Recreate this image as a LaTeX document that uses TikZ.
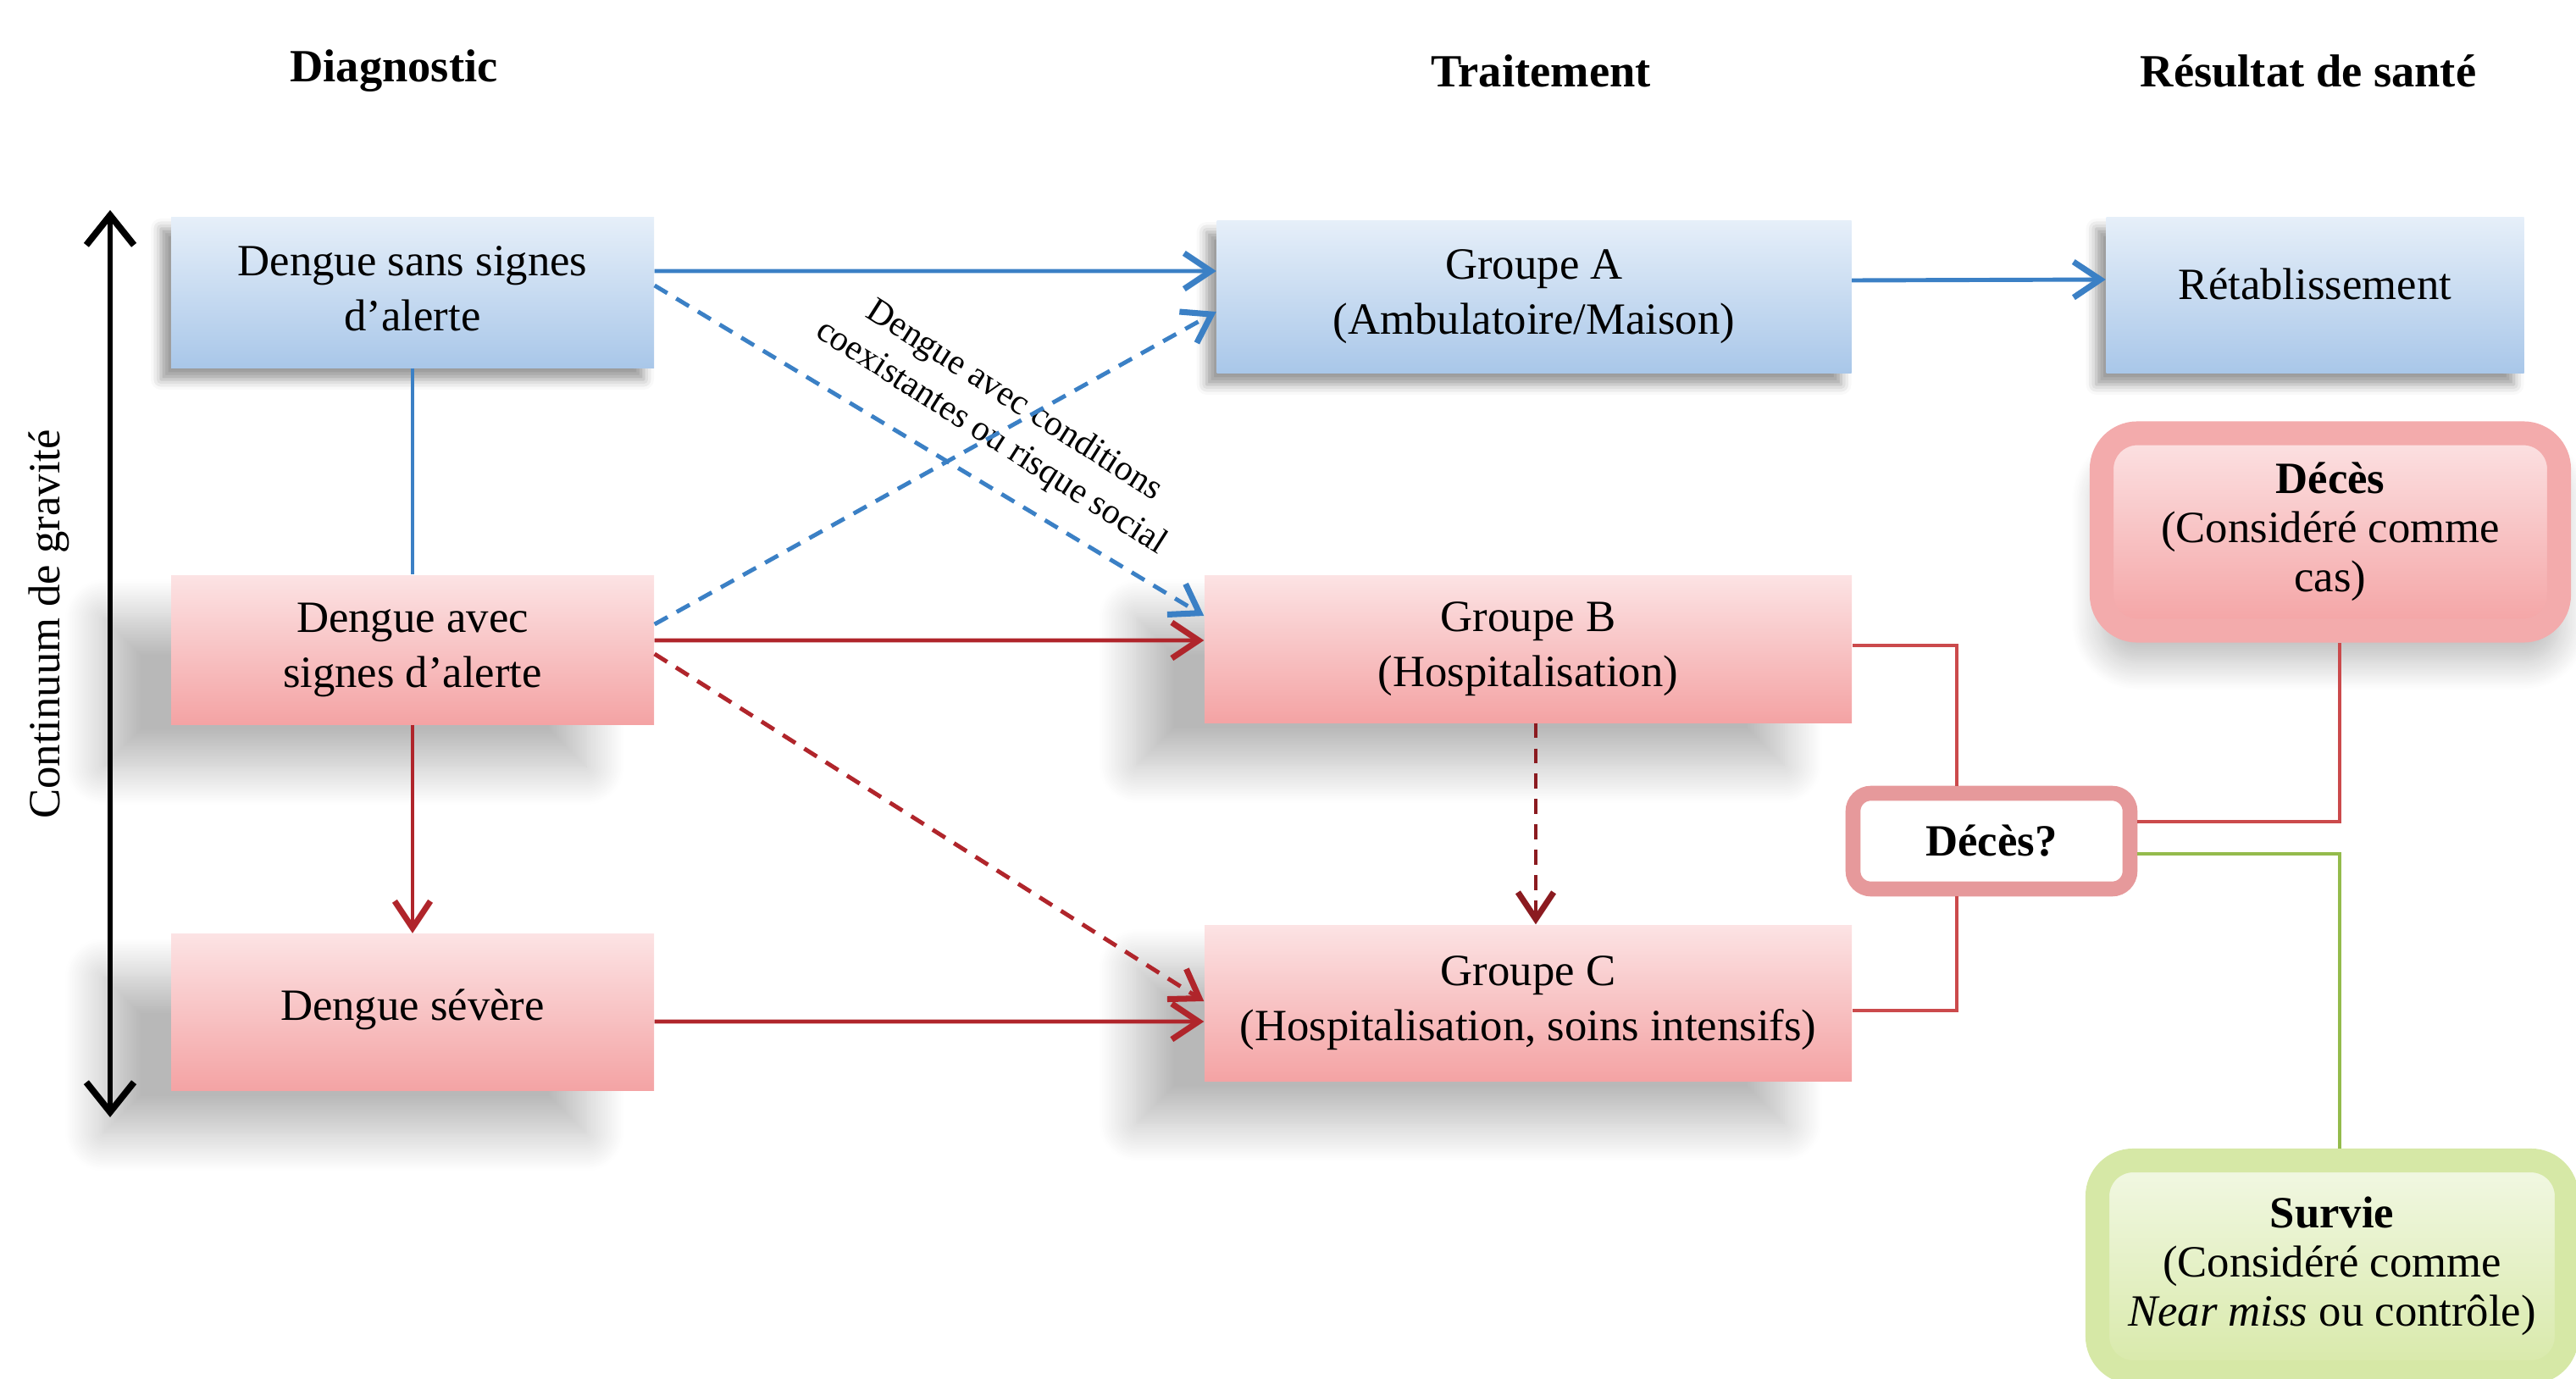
\documentclass[tikz,border=0pt]{standalone}
\usepackage{fontspec}
\setmainfont{Liberation Serif}
\usetikzlibrary{arrows.meta, shadows.blur}

\definecolor{bleuHaut}{HTML}{E6EFF9}
\definecolor{bleuBas}{HTML}{A9C7E9}
\definecolor{roseHaut}{HTML}{FCE3E4}
\definecolor{roseBas}{HTML}{F4A3A4}
\definecolor{roseBord}{HTML}{F3ABAC}
\definecolor{roseCadre}{HTML}{E6999B}
\definecolor{vertHaut}{HTML}{F2F8E4}
\definecolor{vertBas}{HTML}{D8E9A9}
\definecolor{vertBord}{HTML}{D6E8A6}
\definecolor{bleuTrait}{HTML}{3B80C5}
\definecolor{rougeTrait}{HTML}{B0252B}
\definecolor{rougeFonce}{HTML}{8B1B20}
\definecolor{rougeFin}{HTML}{CB4A4C}
\definecolor{vertTrait}{HTML}{94BB4C}

\begin{document}
\begin{tikzpicture}[
    texte/.style={font=\fontsize{15}{18.5}\selectfont},
    entete/.style={font=\fontsize{15.5}{18.5}\selectfont\bfseries},
    boite/.style={texte, rectangle, align=center, inner sep=2pt},
    boitebleue/.style={boite, top color=bleuHaut, bottom color=bleuBas,
        blur shadow={shadow xshift=-0.12cm, shadow yshift=-0.14cm, shadow blur radius=0.12cm, shadow opacity=40}},
    boiterose/.style={boite, top color=roseHaut, bottom color=roseBas,
        blur shadow={shadow xshift=-0.8cm, shadow yshift=-0.5cm, shadow blur radius=0.45cm, shadow blur steps=24, shadow opacity=28}},
    resultat/.style={boite, font=\fontsize{15}{16.5}\selectfont},
    lueurrose/.style={resultat, rounded corners=12pt, draw=roseBord, line width=8pt,
        top color=roseHaut, bottom color=roseBas,
        blur shadow={shadow xshift=0cm, shadow yshift=-0.35cm, shadow blur radius=0.35cm, shadow blur steps=20, shadow opacity=28}},
    lueurverte/.style={resultat, rounded corners=12pt, draw=vertBord, line width=8pt,
        top color=vertHaut, bottom color=vertBas},
    cadrerose/.style={boite, rounded corners=6pt, draw=roseCadre, line width=5pt, fill=white},
    pointe/.style={-{Straight Barb[length=9pt, width=12pt, line width=2pt]}},
    fleche bleue/.style={pointe, draw=bleuTrait, line width=1.4pt},
    fleche rouge/.style={pointe, draw=rougeTrait, line width=1.4pt},
    pointilles/.style={dash pattern=on 5pt off 3.5pt},
    trait rouge/.style={draw=rougeFin, line width=1pt},
]
\useasboundingbox (0,0) rectangle (30.41,-16.28);

% En-tetes
\node[entete] (hdiag) at (4.65,-0.84) {Diagnostic};
\node[entete] (htrait) at (18.19,-0.84) {Traitement};
\node[entete] (hres) at (27.25,-0.84) {Résultat de santé};

% Continuum de gravite
\coordinate (haut) at (1.30,-2.48);
\coordinate (bas) at (1.30,-13.19);
\draw[{Straight Barb[length=10pt, width=16pt, line width=2.2pt]}-{Straight Barb[length=10pt, width=16pt, line width=2.2pt]}, line width=1.6pt] (haut) -- (bas);
\node[texte, rotate=90] (gravite) at (0.58,-7.37) {Continuum de gravité};

% Diagnostic
\node[boitebleue, minimum width=5.70cm, minimum height=1.78cm] (dss) at (4.87,-3.45) {\raisebox{0.08cm}{\begin{tabular}{@{}c@{}}Dengue sans signes\\d’alerte\end{tabular}}};
\node[boiterose, minimum width=5.70cm, minimum height=1.76cm] (das) at (4.87,-7.67) {Dengue avec\\signes d’alerte};
\node[boiterose, minimum width=5.70cm, minimum height=1.85cm] (dsev) at (4.87,-11.95) {\raisebox{0.17cm}{Dengue sévère}};

% Traitement
\node[boitebleue, minimum width=7.49cm, minimum height=1.80cm] (grA) at (18.11,-3.50) {Groupe A\\(Ambulatoire/Maison)};
\node[boiterose, minimum width=7.64cm, minimum height=1.74cm] (grB) at (18.04,-7.66) {Groupe B\\(Hospitalisation)};
\node[boiterose, minimum width=7.64cm, minimum height=1.84cm] (grC) at (18.04,-11.84) {Groupe C\\(Hospitalisation, soins intensifs)};

% Resultat de sante
\node[boitebleue, minimum width=4.93cm, minimum height=1.84cm] (retab) at (27.33,-3.48) {\raisebox{0.25cm}{Rétablissement}};
\node[lueurrose, minimum width=5.40cm, minimum height=2.33cm] (deces) at (27.51,-6.28) {\textbf{Décès}\\(Considéré comme\\cas)};
\node[cadrerose, minimum width=3.27cm, minimum height=1.13cm] (decesq) at (23.51,-9.93) {\textbf{Décès?}};
\node[lueurverte, minimum width=5.54cm, minimum height=2.50cm] (survie) at (27.53,-14.95) {\textbf{Survie}\\(Considéré comme\\\emph{Near miss} ou contrôle)};

% Liaisons
\draw[draw=bleuTrait, line width=1.2pt] (dss.south) -- (das.north);
\draw[fleche rouge] (das.south) -- (dsev.north);
\draw[fleche bleue] ([yshift=2.5mm]dss.east) -- ([yshift=3mm]grA.west);
\draw[fleche bleue, pointilles] ([yshift=0.8mm]dss.east) -- ([yshift=3.9mm]grB.west)
    node[pos=0.57, sloped, rotate=-1.5, above=0.17cm, font=\fontsize{12}{14.5}\selectfont, align=center] (conditions) {Dengue avec conditions\\coexistantes ou risque social};
\draw[fleche bleue, pointilles] ([yshift=3mm]das.east) -- ([yshift=-1.8mm]grA.west);
\draw[fleche rouge] ([yshift=1.1mm]das.east) -- ([yshift=1mm]grB.west);
\draw[fleche rouge, pointilles] ([yshift=-0.5mm]das.east) -- ([yshift=0.2mm]grC.west);
\draw[fleche rouge] ([yshift=-1.1mm]dsev.east) -- ([yshift=-2.2mm]grC.west);
\draw[fleche rouge, draw=rougeFonce, pointilles] ([xshift=0.9mm]grB.south) -- ([xshift=0.9mm]grC.north);
\draw[fleche bleue] ([yshift=1.9mm]grA.east) -- ([yshift=1.8mm]retab.west);
\draw[trait rouge] ([yshift=0.4mm]grB.east) -| ([xshift=-4.1mm]decesq.north);
\draw[trait rouge] ([yshift=-0.9mm]grC.east) -| ([xshift=-4.1mm]decesq.south);
\draw[trait rouge, line width=1.3pt] ([yshift=2.3mm]decesq.east) -| ([xshift=1.1mm]deces.south);
\draw[draw=vertTrait, line width=1.3pt] ([yshift=-1.5mm]decesq.east) -| ([xshift=0.9mm]survie.north);
\end{tikzpicture}
\end{document}
